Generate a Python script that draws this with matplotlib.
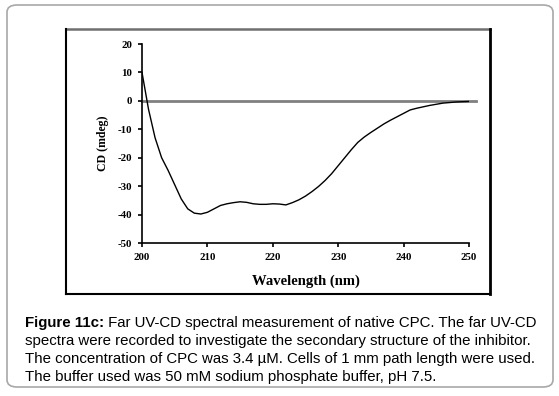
import matplotlib.pyplot as plt
from matplotlib.patches import FancyBboxPatch
from matplotlib.lines import Line2D

plt.rcParams['axes.unicode_minus'] = False

# far UV-CD spectrum of native CPC
wavelength = [200, 201, 202, 203, 204, 205, 206, 207, 208, 209,
              210, 211, 212, 213, 214, 215, 216, 217, 218, 219,
              220, 221, 222, 223, 224, 225, 226, 227, 228, 229,
              230, 231, 232, 233, 234, 235, 236, 237, 238, 239,
              240, 241, 242, 243, 244, 245, 246, 247, 248, 249, 250]
cd = [10, -3, -13, -20, -24.5, -29.5, -34.5, -38, -39.5, -39.8,
      -39.2, -38, -36.8, -36.2, -35.8, -35.5, -35.7, -36.2, -36.4, -36.4,
      -36.2, -36.3, -36.6, -35.8, -34.8, -33.5, -31.9, -30.1, -28.0, -25.6,
      -22.8, -20.0, -17.2, -14.6, -12.7, -11.1, -9.6, -8.1, -6.8, -5.6,
      -4.4, -3.2, -2.6, -2.1, -1.6, -1.2, -0.8, -0.6, -0.4, -0.3, -0.2]

xticks = [200, 210, 220, 230, 240, 250]
yticks = [20, 10, 0, -10, -20, -30, -40, -50]

caption_bold = "Figure 11c:"
caption_rest = " Far UV-CD spectral measurement of native CPC. The far UV-CD"
caption_lines = [
    "spectra were recorded to investigate the secondary structure of the inhibitor.",
    "The concentration of CPC was 3.4 \u00b5M. Cells of 1 mm path length were used.",
    "The buffer used was 50 mM sodium phosphate buffer, pH 7.5.",
]

W, H = 559, 396
fig = plt.figure(figsize=(W / 100, H / 100), dpi=100)

def fx(px):
    return px / W

def fy(py):
    return 1 - py / H

# outer rounded frame
frame = FancyBboxPatch((fx(7), fy(387)), fx(553) - fx(7), fy(5) - fy(387),
                       boxstyle="round,pad=0,rounding_size=0.018",
                       transform=fig.transFigure, fill=False,
                       edgecolor='#a8a8a8', linewidth=1.2)
fig.patches.append(frame)

# inner chart box
fig.add_artist(Line2D([fx(66), fx(490)], [fy(29), fy(29)], color='#707070', lw=1.8))
fig.add_artist(Line2D([fx(66), fx(66)], [fy(29), fy(294)], color='black', lw=1.5))
fig.add_artist(Line2D([fx(490), fx(490)], [fy(29), fy(294)], color='black', lw=2))
fig.add_artist(Line2D([fx(66), fx(490)], [fy(294), fy(294)], color='black', lw=1.5))

ax = fig.add_axes([fx(142), fy(243), fx(469) - fx(142), fy(44) - fy(243)])
ax.set_facecolor('none')
ax.plot([200, 251], [0, 0], color='#808080', lw=2, clip_on=False, zorder=1)
ax.plot(wavelength, cd, color='black', lw=1.0, zorder=2)

ax.set_xlim(200, 250)
ax.set_ylim(-50, 20)
ax.set_xticks(xticks)
ax.set_yticks(yticks)
for s in ['top', 'right']:
    ax.spines[s].set_visible(False)
for s in ['left', 'bottom']:
    ax.spines[s].set_linewidth(1.2)
ax.tick_params(direction='out', length=3, width=1.2, pad=4)

serif = 'Liberation Serif'
for lab in ax.get_xticklabels() + ax.get_yticklabels():
    lab.set_family(serif)
    lab.set_fontweight('bold')
    lab.set_fontsize(7.8)

ax.set_xlabel('Wavelength (nm)', family=serif, fontweight='bold',
              fontsize=10.5, labelpad=9)
ax.set_ylabel('CD (mdeg)', family=serif, fontweight='bold',
              fontsize=8.5, labelpad=6)

# caption
sans = 'Liberation Sans'
fs = 10.85
t = fig.text(fx(25), fy(327), caption_bold, family=sans, fontweight='bold',
             fontsize=fs, va='baseline')
ax.annotate(caption_rest, xy=(1, 0), xycoords=t, va='bottom', ha='left',
            family=sans, fontsize=fs, annotation_clip=False)
for i, line in enumerate(caption_lines):
    fig.text(fx(25), fy(327 + 18 * (i + 1)), line, family=sans,
             fontsize=fs, va='baseline')

fig.savefig('out.png', dpi=100)
